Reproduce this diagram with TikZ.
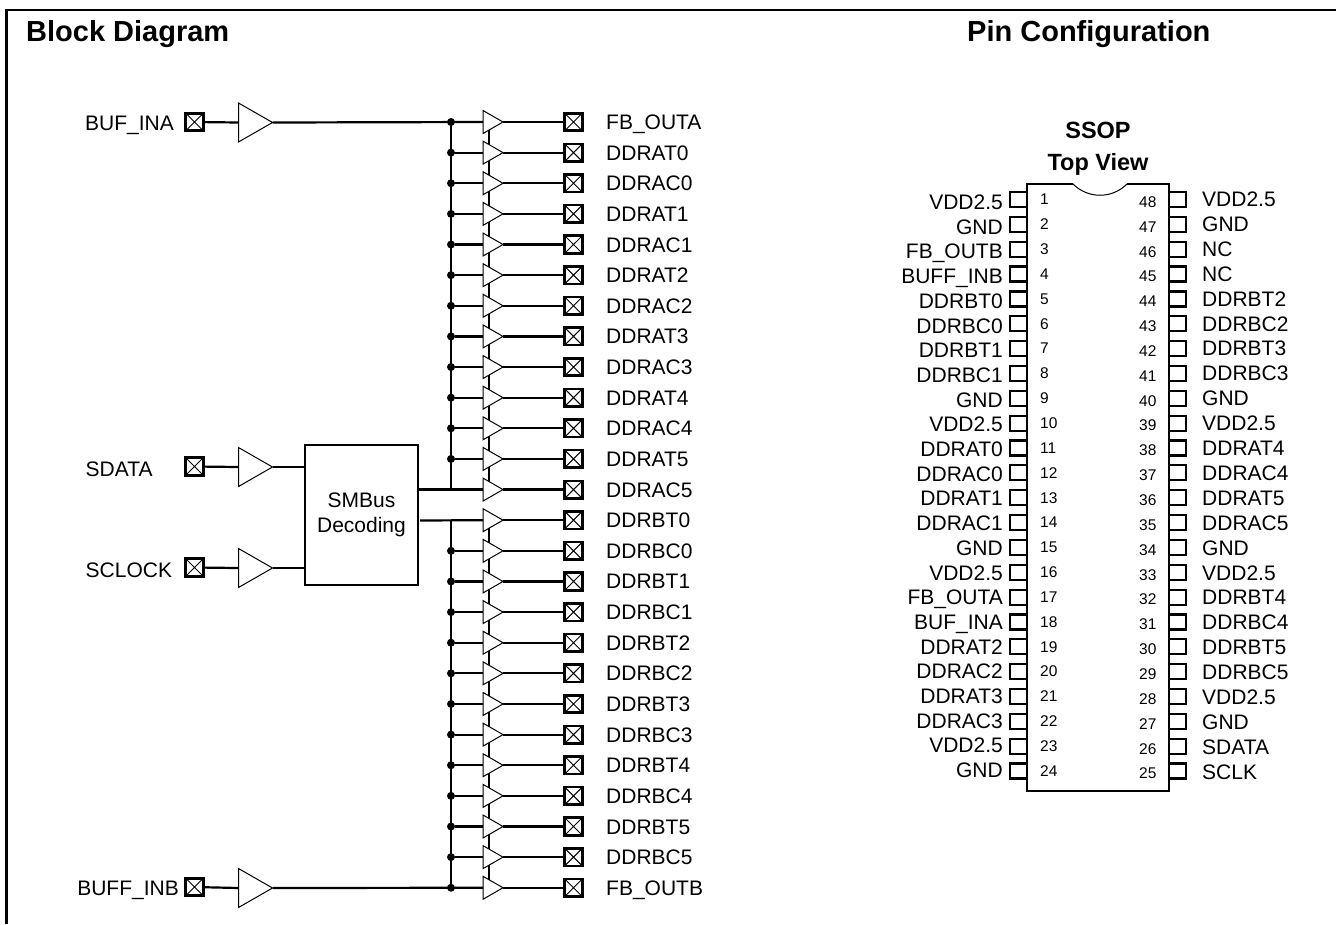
\documentclass[tikz,border=0pt]{standalone}
\usepackage{fontspec}
\setmainfont{Liberation Sans}
\usetikzlibrary{shapes.geometric,positioning}
\pgfdeclarelayer{bg}
\pgfsetlayers{bg,main}
\newcommand{\lblfont}{\fontsize{21}{25}\selectfont}
\newcommand{\numfont}{\fontsize{15.5}{18}\selectfont}
\newcommand{\ttlfont}{\fontsize{29}{34}\selectfont\bfseries}
\newcommand{\subfont}{\fontsize{23.5}{30}\selectfont\bfseries}
\tikzset{
  x=1pt,y=-1pt,
  wire/.style={line width=2.2pt,black},
  smallbuf/.style={isosceles triangle,isosceles triangle stretches,draw,fill=white,line width=1pt,inner sep=0pt,outer sep=0pt,minimum height=20pt,minimum width=23pt,anchor=apex},
  bigbuf/.style={isosceles triangle,isosceles triangle stretches,draw,fill=white,line width=1pt,inner sep=0pt,outer sep=0pt,minimum height=34pt,minimum width=39pt,anchor=apex},
  padbox/.style={draw,line width=2.6pt,fill=white,inner sep=0pt,outer sep=0pt,minimum width=17.5pt,minimum height=17.5pt,path picture={\draw[line width=1pt](path picture bounding box.south west)--(path picture bounding box.north east)(path picture bounding box.north west)--(path picture bounding box.south east);}},
  dotn/.style={circle,fill=black,inner sep=0pt,minimum size=8pt},
  lbl/.style={font=\lblfont,inner sep=0pt,text height=15pt,text depth=0pt},
  pinbox/.style={draw,line width=2.2pt,inner sep=0pt,outer sep=0pt,minimum width=17pt,minimum height=15pt},
  num/.style={font=\numfont,inner sep=0pt},
}
\begin{document}
\begin{tikzpicture}
\useasboundingbox (0,0) rectangle (1336,924);
\draw[line width=2.4pt] (1336,10) -- (6.5,10) -- (6.5,924);
\node[anchor=base west,font=\ttlfont,inner sep=0pt] (t1) at (26,41) {Block Diagram};
\node[anchor=base west,font=\ttlfont,inner sep=0pt] (t2) at (967,41) {Pin Configuration};
\def\rowlist{FB\_OUTA,DDRAT0,DDRAC0,DDRAT1,DDRAC1,DDRAT2,DDRAC2,DDRAT3,DDRAC3,DDRAT4,DDRAC4,DDRAT5,DDRAC5,DDRBT0,DDRBC0,DDRBT1,DDRBC1,DDRBT2,DDRBC2,DDRBT3,DDRBC3,DDRBT4,DDRBC4,DDRBT5,DDRBC5,FB\_OUTB}
\coordinate (ena) at (489,122);
\coordinate (enb) at (489,490);
\coordinate (enc) at (489,520);
\coordinate (end) at (489,887);
\begin{pgfonlayer}{bg}
\draw[wire] (ena) -- (enb) (enc) -- (end);
\end{pgfonlayer}
\foreach \name [count=\i from 0] in \rowlist {
  \pgfmathsetmacro{\yy}{122+30.63*\i}
  \node[smallbuf] (b\i) at (503,\yy) {};
  \node[padbox] (p\i) at (573.5,\yy) {};
  \draw[wire] (b\i.apex) -- (p\i.west);
  \node[lbl,anchor=west] (l\i) at (606,{\yy}) {\name};
}
% input pads and buffers
\node[padbox] (pa) at (194.5,122) {};
\node[bigbuf] (ba) at (272.5,122.5) {};
\node[lbl,anchor=east] (la) at (174,123) {BUF\_INA};
\node[padbox] (ps) at (194.5,466.5) {};
\node[bigbuf] (bs) at (272.5,467) {};
\node[lbl,anchor=west] (ls) at (85.5,469) {SDATA};
\node[padbox] (pc) at (194.5,567.5) {};
\node[bigbuf] (bc) at (272.5,568) {};
\node[lbl,anchor=west] (lc) at (85.5,570) {SCLOCK};
\node[padbox] (pb) at (194.5,887) {};
\node[bigbuf] (bb) at (272.5,888) {};
\node[lbl,anchor=east] (lb) at (179,888) {BUFF\_INB};
\node[draw,line width=2.2pt,minimum width=113pt,minimum height=140pt,inner sep=0pt,outer sep=0pt,align=center,font=\lblfont] (smb) at (361.5,515) {SMBus\\Decoding};
\draw[wire] (pa) -- (ba.lower side);
\draw[wire] (ps) -- (bs.lower side);
\draw[wire] (pc) -- (bc.lower side);
\draw[wire] (pb) -- (bb.lower side);
\draw[wire] (bs.apex) -- (bs.apex -| smb.west);
\draw[wire] (bc.apex) -- (bc.apex -| smb.west);
% buses
\coordinate (ja) at (451,122);
\coordinate (jb) at (451,490);
\coordinate (jc) at (451,520);
\coordinate (jd) at (451,887.7);
\coordinate (jt) at (469,520);
\coordinate (ds) at (420,520.5);
\draw[wire] (ba.apex) -- (b0.lower side);
\draw[wire] (bb.apex) -- (b25.lower side);
\draw[wire] (ja) -- (jb) (jc) -- (jd);
\draw[wire] (smb.east |- b12.lower side) -- (b12.lower side);
\draw[wire] (ds) -- (b13.lower side);
\draw[line width=2.8pt] (jc) -- (jt);
\foreach \i in {0,...,11,14,15,...,25} {
  \node[dotn] (d\i) at (451,{122+30.63*\i}) {};
  \draw[wire] (d\i) -- (b\i.lower side);
}
% pin configuration
\node[font=\subfont,inner sep=0pt,anchor=base] (ss) at (1098,138) {SSOP};
\node[font=\subfont,inner sep=0pt,anchor=base] (tv) at (1098,170) {Top View};
\draw[line width=2.2pt] (1073,184) -- (1027,184) -- (1027,791) -- (1169,791) -- (1169,184) -- (1127,184);
\draw[line width=1pt] (1073,184) .. controls (1088,199) and (1112,199) .. (1127,184);
\foreach \name [count=\i from 1] in {VDD2.5,GND,FB\_OUTB,BUFF\_INB,DDRBT0,DDRBC0,DDRBT1,DDRBC1,GND,VDD2.5,DDRAT0,DDRAC0,DDRAT1,DDRAC1,GND,VDD2.5,FB\_OUTA,BUF\_INA,DDRAT2,DDRAC2,DDRAT3,DDRAC3,VDD2.5,GND} {
  \pgfmathsetmacro{\yy}{199.5+24.85*(\i-1)}
  \node[pinbox] (lp\i) at (1018.5,\yy) {};
  \node[lbl,anchor=east] (ln\i) at (1003,{202+24.7*(\i-1)}) {\name};
  \node[num,anchor=west] (lq\i) at (1040,\yy) {\i};
}
\foreach \name [count=\i from 1] in {VDD2.5,GND,NC,NC,DDRBT2,DDRBC2,DDRBT3,DDRBC3,GND,VDD2.5,DDRAT4,DDRAC4,DDRAT5,DDRAC5,GND,VDD2.5,DDRBT4,DDRBC4,DDRBT5,DDRBC5,VDD2.5,GND,SDATA,SCLK} {
  \pgfmathsetmacro{\yy}{199.5+24.85*(\i-1)}
  \pgfmathtruncatemacro{\nn}{49-\i}
  \node[pinbox] (rp\i) at (1177.5,\yy) {};
  \node[lbl,anchor=west] (rn\i) at (1202,{199+24.9*(\i-1)}) {\name};
  \node[num,anchor=west] (rq\i) at (1139,{\yy+2.5}) {\nn};
}
\end{tikzpicture}
\end{document}
